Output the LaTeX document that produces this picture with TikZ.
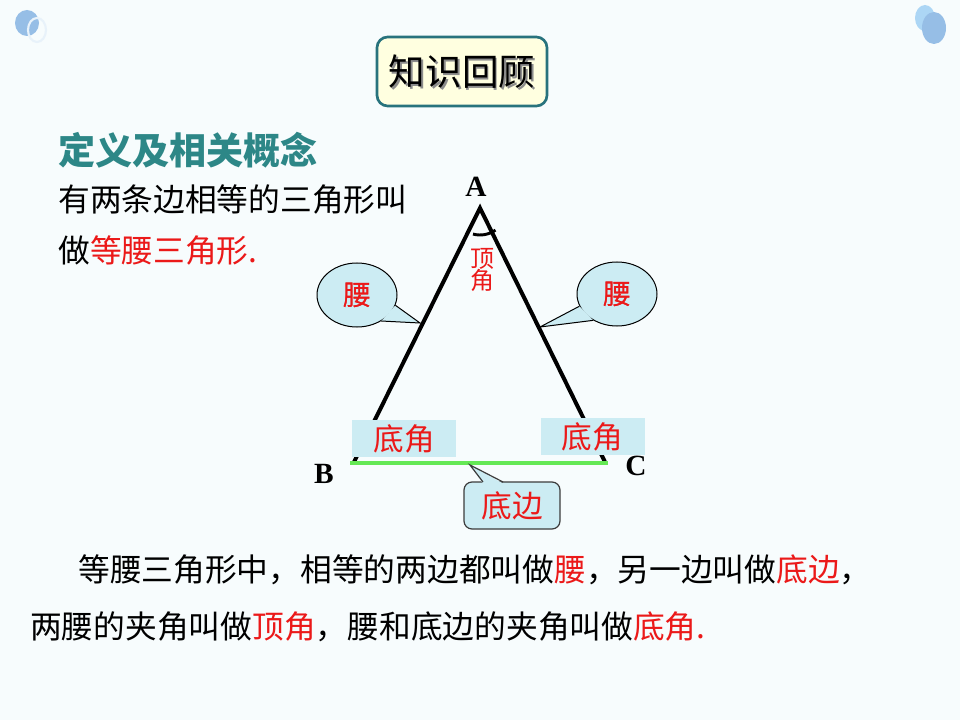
\documentclass[tikz,border=0pt]{standalone}
\usepackage{fontspec}
\setmainfont{Liberation Serif}
\newfontfamily\cjk{Noto Sans CJK SC}
\usetikzlibrary{calc,shapes.geometric}
\definecolor{bg}{RGB}{247,252,253}
\definecolor{decoA}{RGB}{150,190,230}
\definecolor{decoB}{RGB}{172,214,245}
\definecolor{ringc}{RGB}{232,242,250}
\definecolor{teal}{RGB}{45,135,135}
\definecolor{tborder}{RGB}{40,115,125}
\definecolor{tfill}{RGB}{255,255,224}
\definecolor{cfill}{RGB}{204,236,243}
\definecolor{myred}{RGB}{235,25,25}
\definecolor{mygreen}{RGB}{100,232,85}
\definecolor{cborder}{RGB}{60,60,60}
\newcommand{\fs}[1]{\fontsize{#1}{#1}\selectfont}
\tikzset{
  txt/.style={inner sep=0pt, anchor=west, font=\cjk\fs{23.8pt}},
  calloutell/.style={ellipse, draw=black, line width=0.75pt, fill=cfill, minimum width=60pt, minimum height=48pt, inner sep=0pt, text=myred, font=\cjk\fs{21pt}},
  anglebox/.style={rectangle, fill=cfill, minimum width=78pt, minimum height=27.75pt, inner sep=0pt, text=myred, font=\cjk\fs{23pt}},
  vlabel/.style={inner sep=0pt, font=\bfseries\fs{22pt}},
  side/.style={line width=3pt, black},
}
\begin{document}
\begin{tikzpicture}[x=0.75pt,y=-0.75pt]
\useasboundingbox (0,0) rectangle (960,720);
\fill[bg] (0,0) rectangle (960,720);
% decorations
\fill[decoA] (27,23) ellipse [x radius=12, y radius=13];
\draw[ringc, line width=1.6pt] (37,30) ellipse [x radius=9, y radius=12];
\fill[decoB] (925,18) ellipse [x radius=10, y radius=13];
\fill[decoA] (934,28) ellipse [x radius=12, y radius=16];
% title
\node[draw=tborder, line width=2pt, fill=tfill, rounded corners=8pt, minimum width=127.5pt, minimum height=51.75pt, inner sep=0pt] (tbox) at (462,71.5) {};
\node[inner sep=0pt, text=black!45, font=\cjk\fs{27.4pt}] at (463.8,73.8) {知识回顾};
\node[inner sep=0pt, font=\cjk\fs{27.4pt}] (title) at (462,72) {知识回顾};
% heading and definition
\node[txt, text=teal, font=\cjk\bfseries\fs{27.8pt}] (head) at (58,150) {定义及相关概念};
\node[txt] (def1) at (58,199) {有两条边相等的三角形叫};
\node[txt] (def2) at (58,250) {做\textcolor{myred}{等腰三角形.}};
% triangle
\coordinate (A) at (480,208);
\coordinate (B) at (350,463);
\coordinate (C) at (608,463);
\draw[side] ($(B)+(4,-1)$) -- (A) -- ($(C)+(-3,-1)$);
\draw[mygreen, line width=3.2pt] (B) -- (C);
\draw[black, line width=2.2pt] (A) ++(105:27) arc[start angle=105, end angle=55, radius=27];
\node[vlabel] (la) at (476,187) {A};
\node[vlabel] (lb) at (324,474) {B};
\node[vlabel] (lc) at (636,466) {C};
\node[inner sep=0pt, text=myred, font=\cjk\fs{18pt}, align=center] (apex) at (482,270) {顶\\[-1pt]角};
% leg callouts
\node[calloutell] (lw) at (357,295) {腰};
\coordinate (lwt) at (420,323);
\fill[cfill] (lw.-15) -- (lwt) -- (lw.-47) -- cycle;
\draw[line width=0.75pt] (lw.-15) -- (lwt) -- (lw.-47);
\node[inner sep=0pt, text=myred, font=\cjk\fs{21pt}] at (lw) {腰};
\node[calloutell] (rw) at (617,294) {腰};
\coordinate (rwt) at (540,327);
\fill[cfill] (rw.198) -- (rwt) -- (rw.228) -- cycle;
\draw[line width=0.75pt] (rw.198) -- (rwt) -- (rw.228);
\node[inner sep=0pt, text=myred, font=\cjk\fs{21pt}] at (rw) {腰};
% base angle boxes
\node[anglebox] (ba1) at (404,438.5) {底角};
\node[anglebox] (ba2) at (592.5,436.5) {底角};
% base callout
\node[rectangle, rounded corners=6pt, draw=cborder, line width=0.9pt, fill=cfill, minimum width=72pt, minimum height=35.25pt, inner sep=0pt, text=myred, font=\cjk\fs{22.5pt}] (bd) at (512,505.5) {\phantom{底边}};
\coordinate (bdt) at (470,465);
\coordinate (bd1) at (483,482);
\coordinate (bd2) at (503,482);
\fill[cfill] ($(bd1)+(0,1.5)$) -- (bdt) -- ($(bd2)+(0,1.5)$) -- cycle;
\draw[cborder, line width=0.9pt] (bd1) -- (bdt) -- (bd2);
\node[inner sep=0pt, text=myred, font=\cjk\fs{23pt}] at (bd) {底边};
% bottom paragraph
\node[txt] (p1) at (78,570) {等腰三角形中，相等的两边都叫做\textcolor{myred}{腰}，另一边叫做\textcolor{myred}{底边}，};
\node[txt] (p2) at (30,627) {两腰的夹角叫做\textcolor{myred}{顶角}，腰和底边的夹角叫做\textcolor{myred}{底角.}};
\end{tikzpicture}
\end{document}
